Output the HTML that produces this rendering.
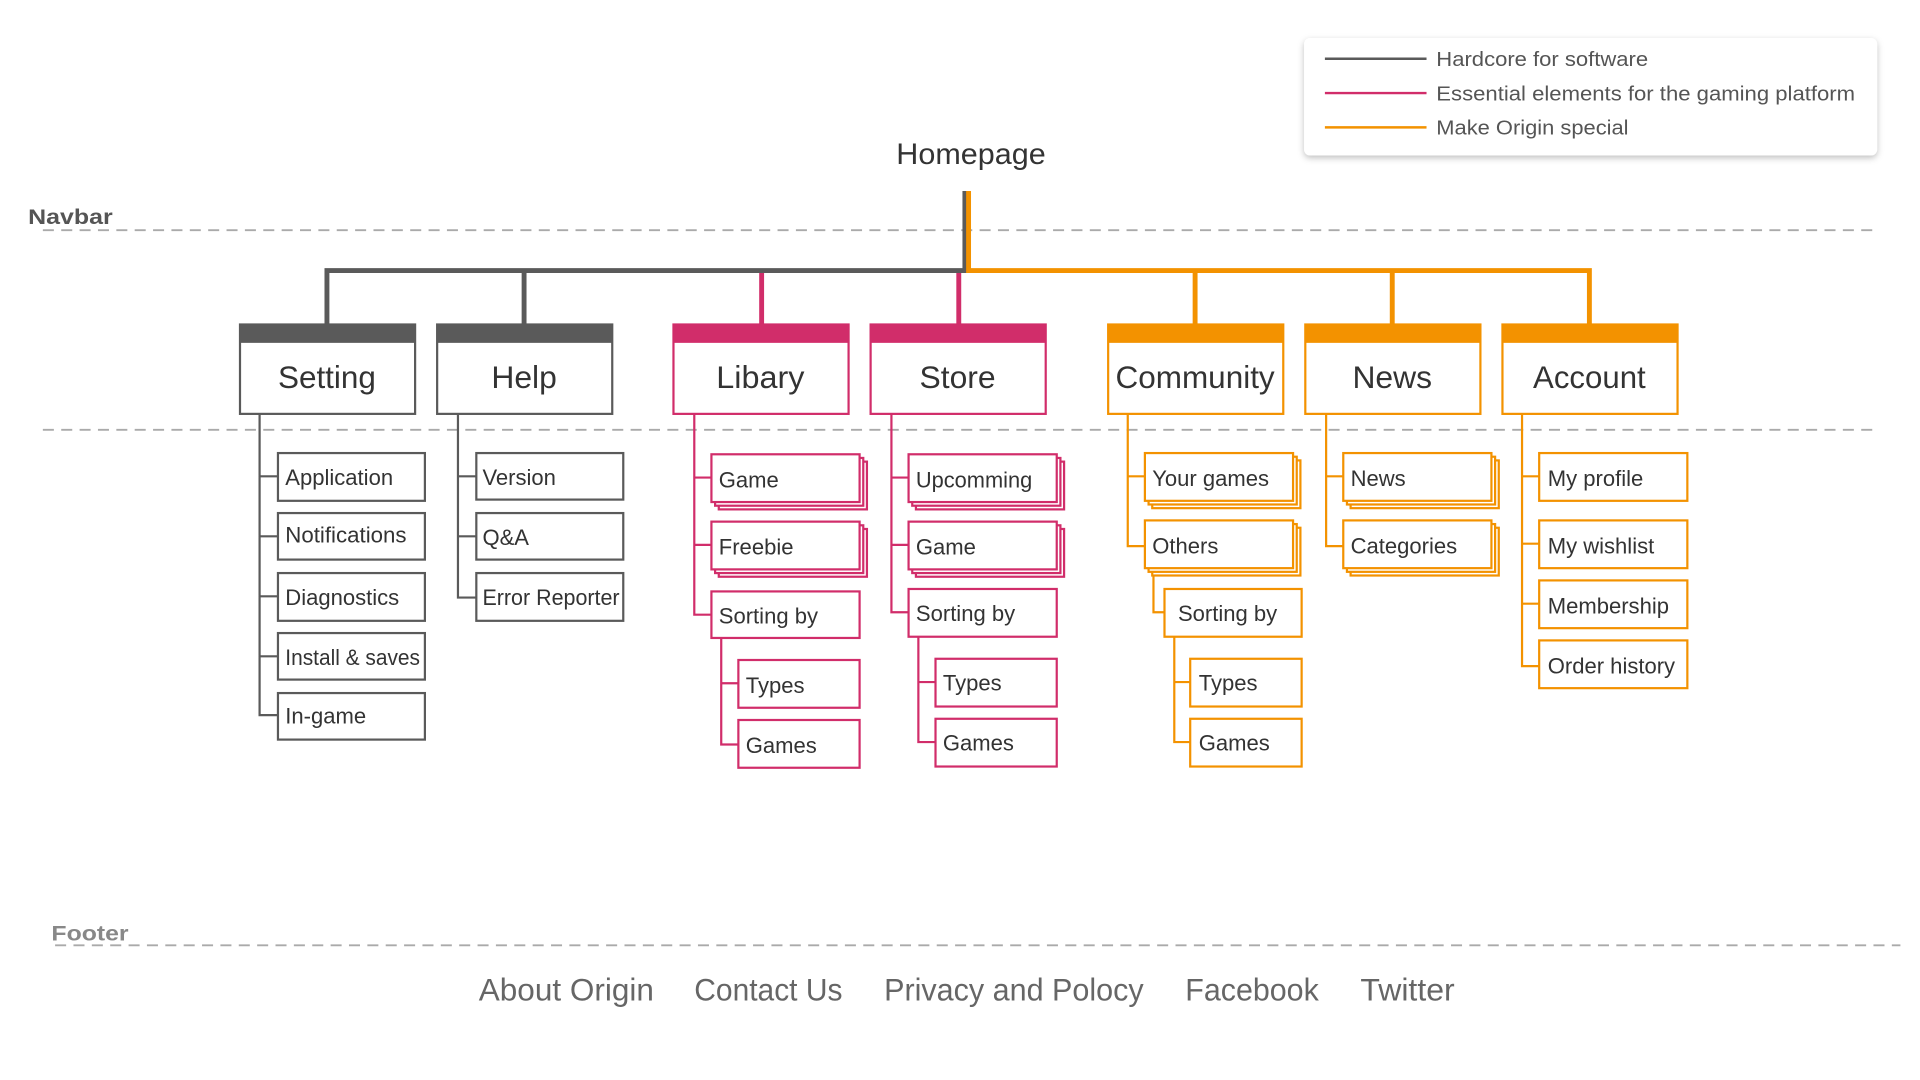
<!DOCTYPE html>
<html><head><meta charset="utf-8"><style>
html,body{margin:0;padding:0;background:#fff;width:1920px;height:1080px;overflow:hidden}
svg{display:block}
text{font-family:"Liberation Sans",sans-serif}
</style></head><body>
<svg width="1920" height="1080" viewBox="0 0 1568 882" xmlns="http://www.w3.org/2000/svg">
<defs>
<filter id="sh" x="-10%" y="-20%" width="120%" height="150%"><feDropShadow dx="0" dy="2" stdDeviation="2.5" flood-color="#000" flood-opacity="0.25"/></filter>
</defs>
<rect x="1065" y="31" width="468" height="96" rx="5" fill="#fff" filter="url(#sh)"/>
<g stroke-width="2">
<line x1="1082" y1="48" x2="1165" y2="48" stroke="#5a5a5a"/>
<line x1="1082" y1="76" x2="1165" y2="76" stroke="#d12d6a"/>
<line x1="1082" y1="104" x2="1165" y2="104" stroke="#f39200"/>
</g>
<g fill="#555" font-size="16.5">
<text x="1173" y="54" textLength="173" lengthAdjust="spacingAndGlyphs">Hardcore for software</text>
<text x="1173" y="82" textLength="342" lengthAdjust="spacingAndGlyphs">Essential elements for the gaming platform</text>
<text x="1173" y="110" textLength="157" lengthAdjust="spacingAndGlyphs">Make Origin special</text>
</g>
<text x="793" y="134" font-size="24" fill="#333" text-anchor="middle" textLength="122" lengthAdjust="spacingAndGlyphs">Homepage</text>
<text x="23" y="183" font-size="17" font-weight="bold" fill="#555" textLength="69" lengthAdjust="spacingAndGlyphs">Navbar</text>
<text x="42" y="768" font-size="17" font-weight="bold" fill="#888" textLength="63" lengthAdjust="spacingAndGlyphs">Footer</text>
<g stroke="#aaa" stroke-width="1.5" stroke-dasharray="9,6">
<line x1="35" y1="188" x2="1535" y2="188"/>
<line x1="35" y1="351" x2="1535" y2="351"/>
<line x1="45" y1="772" x2="1552" y2="772"/>
</g>
<g fill="none" stroke-width="4">
<path d="M788 156V221H267V265M428 221V265" stroke="#5a5a5a"/>
<path d="M791 156V221H1298V265M976 221V265M1137 221V265" stroke="#f39200"/>
<path d="M622 223V265M783 223V265" stroke="#d12d6a"/>
</g>
<g stroke-width="1.8" fill="#fff">
<rect x="196" y="265" width="143" height="73" stroke="#5a5a5a"/><rect x="196" y="265" width="143" height="15" fill="#5a5a5a" stroke="none"/>
<rect x="357" y="265" width="143" height="73" stroke="#5a5a5a"/><rect x="357" y="265" width="143" height="15" fill="#5a5a5a" stroke="none"/>
<rect x="550" y="265" width="143" height="73" stroke="#d12d6a"/><rect x="550" y="265" width="143" height="15" fill="#d12d6a" stroke="none"/>
<rect x="711" y="265" width="143" height="73" stroke="#d12d6a"/><rect x="711" y="265" width="143" height="15" fill="#d12d6a" stroke="none"/>
<rect x="905" y="265" width="143" height="73" stroke="#f39200"/><rect x="905" y="265" width="143" height="15" fill="#f39200" stroke="none"/>
<rect x="1066" y="265" width="143" height="73" stroke="#f39200"/><rect x="1066" y="265" width="143" height="15" fill="#f39200" stroke="none"/>
<rect x="1227" y="265" width="143" height="73" stroke="#f39200"/><rect x="1227" y="265" width="143" height="15" fill="#f39200" stroke="none"/>
</g>
<g fill="#333" font-size="26" text-anchor="middle">
<text x="267" y="317" textLength="80" lengthAdjust="spacingAndGlyphs">Setting</text>
<text x="428" y="317">Help</text>
<text x="621" y="317" textLength="72" lengthAdjust="spacingAndGlyphs">Libary</text>
<text x="782" y="317">Store</text>
<text x="976" y="317" textLength="130" lengthAdjust="spacingAndGlyphs">Community</text>
<text x="1137" y="317">News</text>
<text x="1298" y="317" textLength="92" lengthAdjust="spacingAndGlyphs">Account</text>
</g>
<g fill="none" stroke-width="1.8">
<path stroke="#5a5a5a" d="M212 338V584H227M212 389H227M212 438H227M212 487H227M212 536H227"/>
<path stroke="#5a5a5a" d="M374 338V488H389M374 389H389M374 438H389"/>
<path stroke="#d12d6a" d="M567 338V502H581M567 390H581M567 445H581M589 521V608H603M589 558H603"/>
<path stroke="#d12d6a" d="M728 338V500H742M728 390H742M728 445H742M750 520V606H764M750 557H764"/>
<path stroke="#f39200" d="M921 338V446H935M921 389H935M942 464V500H951M959 520V606H972M959 557H972"/>
<path stroke="#f39200" d="M1083 338V446H1097M1083 389H1097"/>
<path stroke="#f39200" d="M1243 338V544H1257M1243 389H1257M1243 444H1257M1243 493H1257"/>
</g>
<g stroke-width="1.8" fill="#fff">
<g stroke="#5a5a5a">
<rect x="227" y="370" width="120" height="39"/><rect x="227" y="419" width="120" height="38"/><rect x="227" y="468" width="120" height="39"/><rect x="227" y="517" width="120" height="38"/><rect x="227" y="566" width="120" height="38"/>
<rect x="389" y="370" width="120" height="38"/><rect x="389" y="419" width="120" height="38"/><rect x="389" y="468" width="120" height="39"/>
</g>
<g stroke="#d12d6a">
<rect x="587" y="377" width="121" height="39"/><rect x="584" y="374" width="121" height="39"/><rect x="581" y="371" width="121" height="39"/>
<rect x="587" y="432" width="121" height="39"/><rect x="584" y="429" width="121" height="39"/><rect x="581" y="426" width="121" height="39"/>
<rect x="581" y="483" width="121" height="38"/><rect x="603" y="539" width="99" height="39"/><rect x="603" y="588" width="99" height="39"/>
<rect x="748" y="377" width="121" height="39"/><rect x="745" y="374" width="121" height="39"/><rect x="742" y="371" width="121" height="39"/>
<rect x="748" y="432" width="121" height="39"/><rect x="745" y="429" width="121" height="39"/><rect x="742" y="426" width="121" height="39"/>
<rect x="742" y="481" width="121" height="39"/><rect x="764" y="538" width="99" height="39"/><rect x="764" y="587" width="99" height="39"/>
</g>
<g stroke="#f39200">
<rect x="941" y="376" width="121" height="39"/><rect x="938" y="373" width="121" height="39"/><rect x="935" y="370" width="121" height="39"/>
<rect x="941" y="431" width="121" height="39"/><rect x="938" y="428" width="121" height="39"/><rect x="935" y="425" width="121" height="39"/>
<rect x="951" y="481" width="112" height="39"/><rect x="972" y="538" width="91" height="39"/><rect x="972" y="587" width="91" height="39"/>
<rect x="1103" y="376" width="121" height="39"/><rect x="1100" y="373" width="121" height="39"/><rect x="1097" y="370" width="121" height="39"/>
<rect x="1103" y="431" width="121" height="39"/><rect x="1100" y="428" width="121" height="39"/><rect x="1097" y="425" width="121" height="39"/>
<rect x="1257" y="370" width="121" height="39"/><rect x="1257" y="425" width="121" height="39"/><rect x="1257" y="474" width="121" height="39"/><rect x="1257" y="523" width="121" height="39"/>
</g>
</g>
<g fill="#333" font-size="18">
<text x="233" y="396">Application</text>
<text x="233" y="443" textLength="99" lengthAdjust="spacingAndGlyphs">Notifications</text>
<text x="233" y="494">Diagnostics</text>
<text x="233" y="543" textLength="110" lengthAdjust="spacingAndGlyphs">Install &amp; saves</text>
<text x="233" y="591">In-game</text>
<text x="394" y="396">Version</text>
<text x="394" y="445">Q&amp;A</text>
<text x="394" y="494" textLength="112" lengthAdjust="spacingAndGlyphs">Error Reporter</text>
<text x="587" y="398">Game</text>
<text x="587" y="453">Freebie</text>
<text x="587" y="509">Sorting by</text>
<text x="609" y="566">Types</text>
<text x="609" y="615">Games</text>
<text x="748" y="398" textLength="95" lengthAdjust="spacingAndGlyphs">Upcomming</text>
<text x="748" y="453">Game</text>
<text x="748" y="507">Sorting by</text>
<text x="770" y="564">Types</text>
<text x="770" y="613">Games</text>
<text x="941" y="397">Your games</text>
<text x="941" y="452">Others</text>
<text x="962" y="507">Sorting by</text>
<text x="979" y="564">Types</text>
<text x="979" y="613">Games</text>
<text x="1103" y="397">News</text>
<text x="1103" y="452">Categories</text>
<text x="1264" y="397">My profile</text>
<text x="1264" y="452">My wishlist</text>
<text x="1264" y="501">Membership</text>
<text x="1264" y="550">Order history</text>
</g>
<g fill="#666" font-size="26">
<text x="391" y="817" textLength="143" lengthAdjust="spacingAndGlyphs">About Origin</text>
<text x="567" y="817" textLength="121" lengthAdjust="spacingAndGlyphs">Contact Us</text>
<text x="722" y="817" textLength="212" lengthAdjust="spacingAndGlyphs">Privacy and Polocy</text>
<text x="968" y="817" textLength="109" lengthAdjust="spacingAndGlyphs">Facebook</text>
<text x="1111" y="817" textLength="77" lengthAdjust="spacingAndGlyphs">Twitter</text>
</g>
</svg>
</body></html>
